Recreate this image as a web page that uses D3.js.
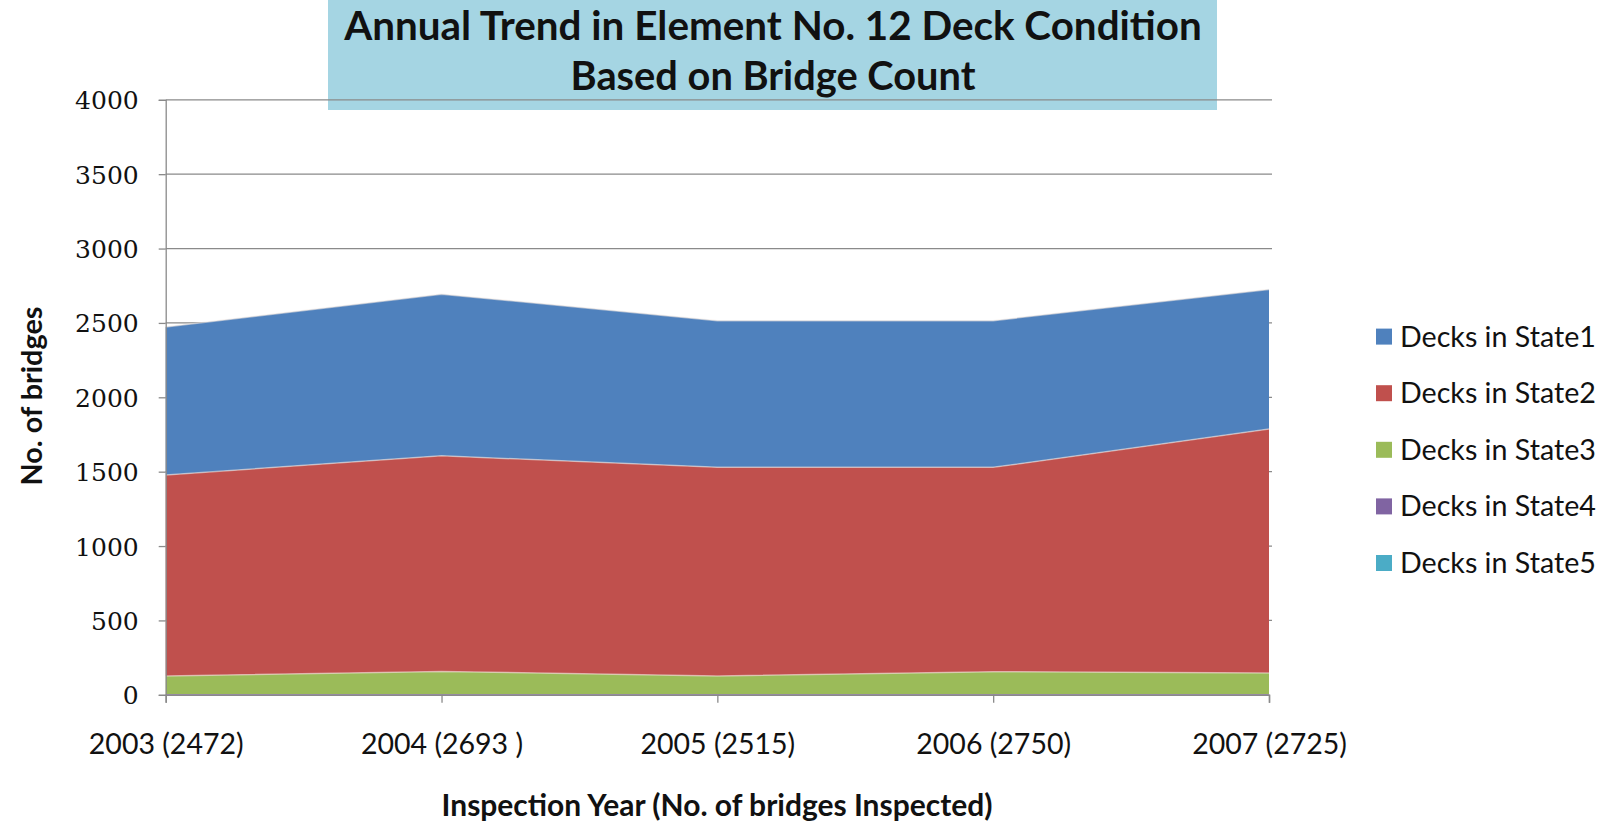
<!DOCTYPE html>
<html><head><meta charset="utf-8">
<script src="https://cdn.jsdelivr.net/npm/d3@7"></script>
<style>html,body{margin:0;padding:0;background:#fff}</style>
</head><body>
<svg id="chart" width="1614" height="825"></svg>
<script>
// ---- data ----
const categories = ["2003 (2472)", "2004 (2693 )", "2005 (2515)", "2006 (2750)", "2007 (2725)"];
const seriesNames = ["Decks in State1", "Decks in State2", "Decks in State3", "Decks in State4", "Decks in State5"];
const state1 = [994, 1086, 986, 986, 938];
const state2 = [1351, 1450, 1402, 1374, 1640];
const state3 = [122, 152, 122, 150, 142];
const state4 = [5, 5, 5, 5, 5];
const state5 = [0, 0, 0, 0, 0];
const yTicks = [0, 500, 1000, 1500, 2000, 2500, 3000, 3500, 4000];
const colors = ["#4F81BD", "#C0504D", "#9BBB59", "#8064A2", "#4BACC6"];
const titleLines = ["Annual Trend in Element No. 12 Deck Condition", "Based on Bridge Count"];
const yTitle = "No. of bridges";
const xTitle = "Inspection Year (No. of bridges Inspected)";

const svg = d3.select("#chart");
const L = 165.7, R = 1269, T = 99.8, B = 694.8;
const x = d3.scalePoint().domain(categories).range([L, R]).padding(0);
const y = d3.scaleLinear().domain([0, 4000]).range([B, T]);

function fit(sel, target) {
  const w = sel.node().getComputedTextLength();
  const fs = parseFloat(sel.attr("font-size"));
  sel.attr("font-size", fs * target / w);
}

// title box (behind gridlines)
svg.append("rect").attr("x", 328).attr("y", 0).attr("width", 889).attr("height", 110)
  .attr("fill", "#A5D5E3");

// gridlines
svg.append("g").selectAll("line").data(yTicks.filter(d => d > 0)).join("line")
  .attr("x1", L).attr("x2", R + 3).attr("y1", d => y(d)).attr("y2", d => y(d))
  .attr("stroke", "#8a8a8a").attr("stroke-width", 1.3);

// stacked data (State5 at bottom, State1 on top)
const rows = categories.map((c, i) => ({
  cat: c,
  "Decks in State1": state1[i], "Decks in State2": state2[i], "Decks in State3": state3[i],
  "Decks in State4": state4[i], "Decks in State5": state5[i]
}));
const stack = d3.stack().keys(seriesNames.slice().reverse());
const layers = stack(rows);
const area = d3.area().x(d => x(d.data.cat)).y0(d => y(d[0])).y1(d => y(d[1]));
const line = d3.line().x(d => x(d.data.cat)).y(d => y(d[1]));
const colorOf = k => colors[seriesNames.indexOf(k)];

svg.append("g").selectAll("path").data(layers).join("path")
  .attr("d", area).attr("fill", d => colorOf(d.key));
svg.append("g").selectAll("path").data(layers.filter(l => l.key === "Decks in State1" || l.key === "Decks in State2" || l.key === "Decks in State3")).join("path")
  .attr("d", line).attr("fill", "none").attr("stroke", "#f3e8e0").attr("stroke-opacity", 0.55).attr("stroke-width", 1.5);

// axes
const yAxis = d3.axisLeft(y).tickValues(yTicks).tickSize(7).tickPadding(20).tickFormat(d3.format("d"));
const gy = svg.append("g").attr("transform", `translate(${L},0)`).call(yAxis);
gy.select(".domain").attr("stroke", "#8a8a8a").attr("stroke-width", 1.3);
gy.selectAll(".tick line").attr("stroke", "#8a8a8a").attr("stroke-width", 1.3);
gy.selectAll(".tick text").attr("font-family", "DejaVu Serif").attr("font-size", 25).attr("fill", "#111").attr("dy", "0.36em");

const xAxis = d3.axisBottom(x).tickSize(8).tickPadding(31);
const gx = svg.append("g").attr("transform", `translate(0,${B})`).call(xAxis);
gx.select(".domain").attr("stroke", "#8a8a8a").attr("stroke-width", 1.5);
gx.selectAll(".tick line").attr("stroke", "#8a8a8a").attr("stroke-width", 1.3);
gx.selectAll(".tick text").attr("font-family", "Lato").attr("font-size", 28.5).attr("fill", "#111");

// title text
const t1 = svg.append("text").attr("x", 773).attr("y", 40).attr("text-anchor", "middle")
  .attr("font-family", "Lato").attr("font-weight", "bold").attr("font-size", 34).attr("fill", "#111").text(titleLines[0]);
fit(t1, 858);
const t2 = svg.append("text").attr("x", 773).attr("y", 90).attr("text-anchor", "middle")
  .attr("font-family", "Lato").attr("font-weight", "bold").attr("font-size", 34).attr("fill", "#111").text(titleLines[1]);
fit(t2, 405);

// axis titles
const yt = svg.append("text").attr("transform", "translate(42,396) rotate(-90)").attr("text-anchor", "middle")
  .attr("font-family", "Lato").attr("font-weight", "bold").attr("font-size", 24).attr("fill", "#111").text(yTitle);
fit(yt, 179);
const xt = svg.append("text").attr("x", 717).attr("y", 816).attr("text-anchor", "middle")
  .attr("font-family", "Lato").attr("font-weight", "bold").attr("font-size", 24).attr("fill", "#111").text(xTitle);
fit(xt, 551);

// legend
const lg = svg.append("g").selectAll("g").data(seriesNames).join("g")
  .attr("transform", (d, i) => `translate(1376,${336.6 + i * 56.6})`);
lg.append("rect").attr("x", 0).attr("y", -8).attr("width", 16).attr("height", 16).attr("fill", (d, i) => colors[i]);
lg.append("text").attr("x", 24).attr("y", 0).attr("dy", "0.35em").attr("font-family", "Lato").attr("font-size", 25).attr("fill", "#111").text(d => d)
  .each(function () { fit(d3.select(this), 196); });
</script>
</body></html>
